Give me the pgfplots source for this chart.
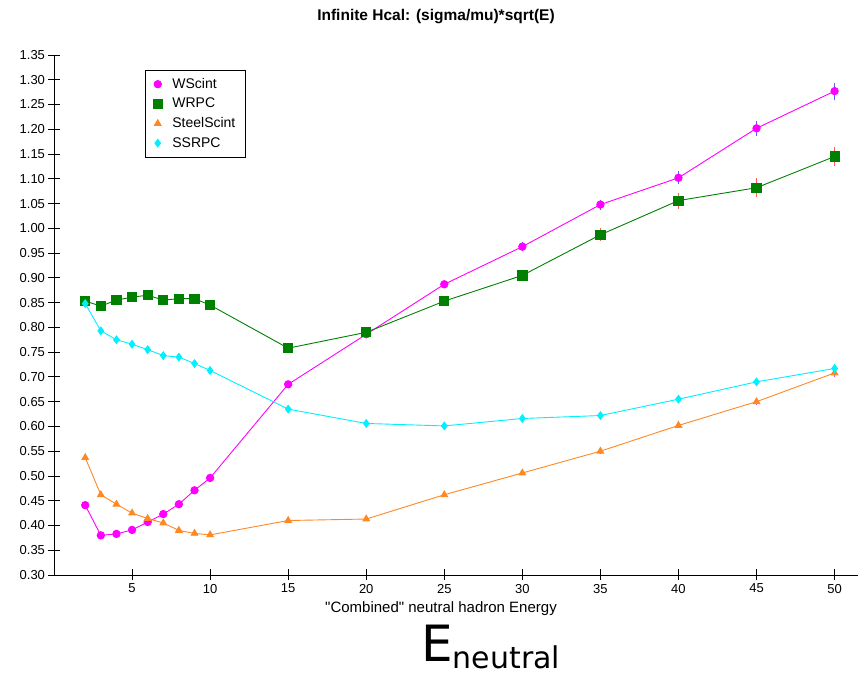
\documentclass[border=0pt]{standalone}
\usepackage{fontspec}
\setmainfont{Liberation Sans}
\newfontfamily\efont{DejaVu Sans}
\usepackage{pgfplots}
\pgfplotsset{compat=1.18}
\definecolor{cMag}{RGB}{255,0,255}
\definecolor{cGreen}{RGB}{0,128,0}
\definecolor{cOrange}{RGB}{255,136,34}
\definecolor{cCyan}{RGB}{0,240,255}
\definecolor{eBlue}{RGB}{90,90,255}
\definecolor{eRed}{RGB}{255,90,90}
\definecolor{eGreen}{RGB}{80,255,80}
\definecolor{eMag}{RGB}{220,80,220}
\begin{document}
\begin{tikzpicture}
\path (-54pt,-101pt) rectangle (805pt,575pt);
\begin{axis}[
 at={(0,0)}, anchor=south west,
 scale only axis, width=804pt, height=520pt,
 xmin=0, xmax=51.5, ymin=0.30, ymax=1.35,
 axis x line=bottom, axis y line=left,
 axis line style={-, line width=0.8pt},
 xtick={5,10,15,20,25,30,35,40,45,50},
 ytick={0.30,0.35,0.40,0.45,0.50,0.55,0.60,0.65,0.70,0.75,0.80,0.85,0.90,0.95,1.00,1.05,1.10,1.15,1.20,1.25,1.30,1.35},
 yticklabel style={/pgf/number format/.cd, fixed, fixed zerofill, precision=2},
 /pgf/number format/assume math mode=true,
 tick align=center, major tick length=11pt,
 tick style={black, line width=0.8pt},
 ticklabel style={font=\fontsize{13}{15}\selectfont},
 clip=false,
 legend image code/.code={\draw[mark repeat=2,mark phase=2,#1,only marks] plot coordinates {(0cm,0cm) (0.3cm,0cm) (0.6cm,0cm)};},
 legend style={at={(0.113,0.971)}, anchor=north west, draw=black, line width=0.6pt,
   font=\fontsize{14}{16}\selectfont, row sep=4.2pt, column sep=8pt, inner xsep=8pt, inner ysep=6pt},
 legend cell align=left,
 error bars/y dir=both, error bars/y explicit, error bars/error mark=none,
]
\addplot[cMag, line width=0.9pt, mark=*, mark size=3.7pt, mark options={solid, fill=cMag, draw=cMag},
  error bars/error bar style={line width=1.6pt, eBlue}]
 table[x=x, y=y, y error=e]{
x y e
2 0.441 0.003
3 0.380 0.003
4 0.383 0.003
5 0.391 0.003
6 0.407 0.003
7 0.423 0.003
8 0.443 0.003
9 0.471 0.004
10 0.496 0.004
15 0.685 0.005
20 0.786 0.006
25 0.887 0.007
30 0.963 0.009
35 1.048 0.010
40 1.102 0.013
45 1.202 0.015
50 1.277 0.017
};
\addlegendentry{WScint}
\addplot[cGreen, line width=0.9pt, mark=square*, mark size=4.6pt, mark options={solid, fill=cGreen, draw=cGreen},
  error bars/error bar style={line width=1.6pt, eRed}]
 table[x=x, y=y, y error=e]{
x y e
2 0.853 0.005
3 0.843 0.005
4 0.855 0.005
5 0.861 0.005
6 0.865 0.005
7 0.855 0.005
8 0.858 0.005
9 0.858 0.005
10 0.845 0.005
15 0.758 0.006
20 0.790 0.008
25 0.853 0.009
30 0.905 0.011
35 0.987 0.013
40 1.056 0.016
45 1.082 0.019
50 1.145 0.020
};
\addlegendentry{WRPC}
\addplot[cOrange, line width=0.9pt, mark=triangle*, mark size=3.8pt, mark options={solid, fill=cOrange, draw=cOrange},
  error bars/error bar style={line width=1.4pt, eMag}]
 table[x=x, y=y, y error=e]{
x y e
2 0.537 0.003
3 0.462 0.003
4 0.443 0.003
5 0.425 0.003
6 0.414 0.003
7 0.405 0.003
8 0.390 0.003
9 0.384 0.003
10 0.381 0.003
15 0.410 0.004
20 0.413 0.004
25 0.462 0.005
30 0.506 0.005
35 0.550 0.006
40 0.602 0.006
45 0.650 0.007
50 0.708 0.008
};
\addlegendentry{SteelScint}
\addplot[cCyan, line width=0.9pt, mark=diamond*, mark size=3.8pt, mark options={solid, fill=cCyan, draw=cCyan},
  error bars/error bar style={line width=1.4pt, eGreen}]
 table[x=x, y=y, y error=e]{
x y e
2 0.848 0.005
3 0.793 0.005
4 0.775 0.005
5 0.766 0.005
6 0.755 0.005
7 0.743 0.005
8 0.740 0.005
9 0.727 0.005
10 0.713 0.005
15 0.635 0.005
20 0.606 0.005
25 0.601 0.006
30 0.616 0.006
35 0.622 0.007
40 0.655 0.007
45 0.690 0.008
50 0.717 0.009
};
\addlegendentry{SSRPC}
\end{axis}
\node[font=\bfseries\fontsize{15.5}{18}\selectfont] at (382pt,558pt) {Infinite Hcal: (sigma/mu)*sqrt(E)};
\node[font=\fontsize{15}{17}\selectfont] at (387pt,-34pt) {\textquotedbl Combined\textquotedbl{} neutral hadron Energy};
\node[font=\efont\fontsize{50}{54}\selectfont, anchor=base west, inner sep=0pt] at (367pt,-87pt) {E\raisebox{-6.5pt}{\fontsize{30}{32}\selectfont neutral}};
\end{tikzpicture}
\end{document}
